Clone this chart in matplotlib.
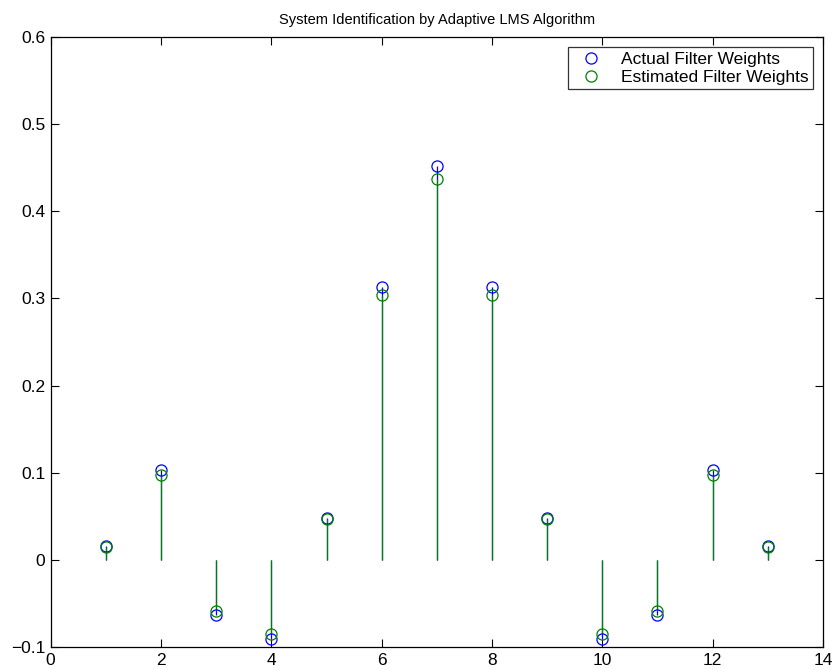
import numpy as np
import matplotlib
matplotlib.use("Agg")
import matplotlib.pyplot as plt

# filter tap index and weights
taps = np.arange(1, 14)
actual = [0.0156, 0.1030, -0.0629, -0.0906, 0.0475, 0.3134, 0.4520,
          0.3134, 0.0475, -0.0906, -0.0629, 0.1030, 0.0156]
estimated = [0.0150, 0.0975, -0.0585, -0.0850, 0.0470, 0.3040, 0.4366,
             0.3035, 0.0470, -0.0850, -0.0585, 0.0975, 0.0150]

plt.rcParams['font.family'] = ['Liberation Sans', 'DejaVu Sans']

fig = plt.figure(figsize=(8.35, 6.7), dpi=100)
ax = fig.add_axes([0.0607, 0.0343, 0.9249, 0.9105])

blue = (0, 0, 1)
green = (0, 0.5, 0)

# stems
ax.vlines(taps, 0, actual, color=blue, linewidth=0.9)
ax.vlines(taps, 0, estimated, color=green, linewidth=0.9)
# heads
ax.plot(taps, actual, 'o', mfc='none', mec=blue, ms=8, mew=0.9,
        label='Actual Filter Weights')
ax.plot(taps, estimated, 'o', mfc='none', mec=green, ms=8, mew=0.9,
        label='Estimated Filter Weights')

ax.set_xlim(0, 14)
ax.set_ylim(-0.1, 0.6)
ax.set_xticks(np.arange(0, 15, 2))
ax.set_yticks(np.arange(-0.1, 0.61, 0.1))
ax.set_yticklabels(['\u22120.1', '0', '0.1', '0.2', '0.3', '0.4', '0.5', '0.6'])
ax.tick_params(direction='in', top=True, right=True, length=5.5, width=0.8,
               labelsize=12.5, pad=4)
for s in ax.spines.values():
    s.set_linewidth(0.9)

ax.set_title('System Identification by Adaptive LMS Algorithm', fontsize=10.5, pad=9)

leg = ax.legend(loc='upper right', fontsize=12.5, frameon=True, fancybox=False,
                edgecolor='black', borderaxespad=0.6, handletextpad=0.6,
                labelspacing=0.15, borderpad=0.25, handlelength=2.2)
leg.get_frame().set_linewidth(0.9)

fig.savefig('out.png', dpi=100)
